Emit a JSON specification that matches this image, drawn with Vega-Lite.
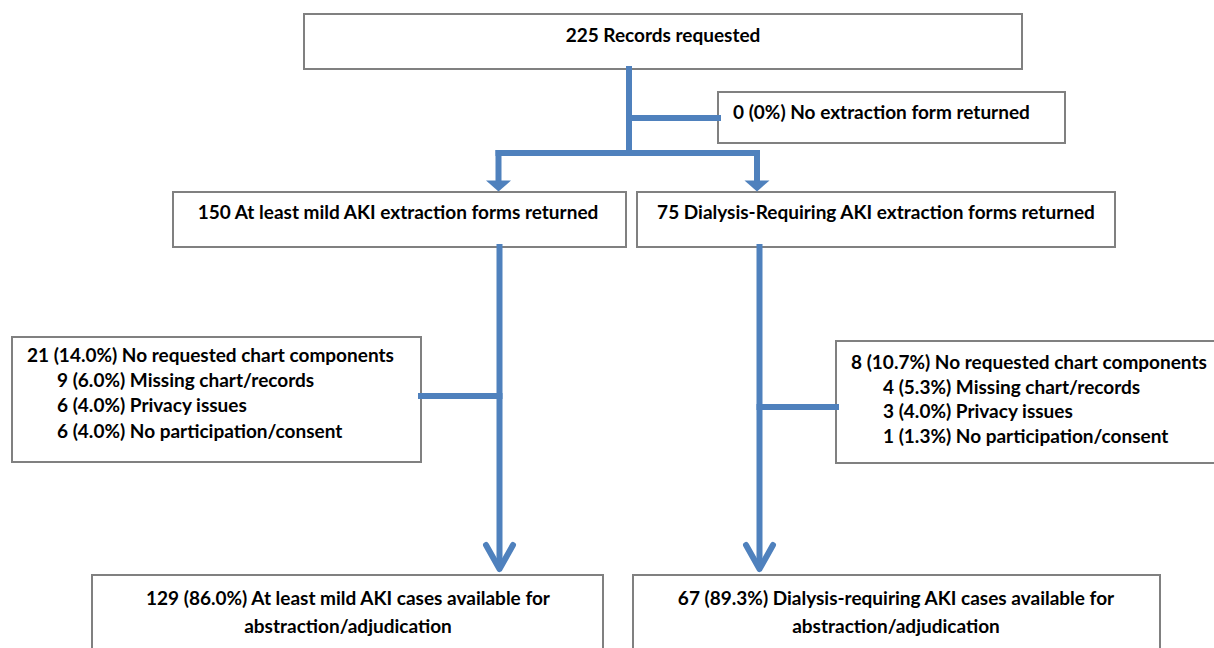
{
  "$schema": "https://vega.github.io/schema/vega-lite/v6.json",
  "autosize": {"type": "fit", "contains": "padding"},
  "width": 1214,
  "height": 648,
  "padding": 0,
  "background": "white",
  "config": {"view": {"stroke": null}},
  "datasets": {
    "boxes": [
      {"id": "top", "x1": 304, "y1": 14, "x2": 1022, "y2": 69},
      {"id": "zero", "x1": 718, "y1": 92, "x2": 1065, "y2": 143},
      {"id": "mild", "x1": 173, "y1": 192, "x2": 626, "y2": 247},
      {"id": "dial", "x1": 637, "y1": 192, "x2": 1115, "y2": 247},
      {"id": "exclL", "x1": 12, "y1": 337, "x2": 421, "y2": 462},
      {"id": "exclR", "x1": 836, "y1": 341, "x2": 1222, "y2": 463},
      {"id": "finalL", "x1": 92, "y1": 575, "x2": 603, "y2": 660},
      {"id": "finalR", "x1": 633, "y1": 575, "x2": 1160, "y2": 660}
    ],
    "lines": [
      {"x1": 629, "y1": 69, "x2": 629, "y2": 153},
      {"x1": 629, "y1": 118, "x2": 718, "y2": 118},
      {"x1": 498.5, "y1": 153, "x2": 757, "y2": 153},
      {"x1": 498.5, "y1": 153, "x2": 498.5, "y2": 182},
      {"x1": 757, "y1": 153, "x2": 757, "y2": 182},
      {"x1": 499.5, "y1": 247, "x2": 499.5, "y2": 566},
      {"x1": 759.5, "y1": 247, "x2": 759.5, "y2": 566},
      {"x1": 421, "y1": 396, "x2": 499.5, "y2": 396},
      {"x1": 759.5, "y1": 407, "x2": 836, "y2": 407}
    ],
    "heads": [
      {"x": 498.5, "y": 186},
      {"x": 757, "y": 186}
    ],
    "chevrons": [
      {"arrow": "L", "k": 1, "x": 486, "y": 545},
      {"arrow": "L", "k": 2, "x": 499.5, "y": 569},
      {"arrow": "L", "k": 3, "x": 513, "y": 545},
      {"arrow": "R", "k": 1, "x": 746, "y": 545},
      {"arrow": "R", "k": 2, "x": 759.5, "y": 569},
      {"arrow": "R", "k": 3, "x": 773, "y": 545}
    ],
    "centerLabels": [
      {"x": 663, "y": 36, "t": "225 Records requested"},
      {"x": 398, "y": 213, "t": "150 At least mild AKI extraction forms returned"},
      {"x": 876, "y": 213, "t": "75 Dialysis-Requiring AKI extraction forms returned"},
      {"x": 348, "y": 599, "t": "129 (86.0%) At least mild AKI cases available for"},
      {"x": 348, "y": 627, "t": "abstraction/adjudication"},
      {"x": 896, "y": 599, "t": "67 (89.3%) Dialysis-requiring AKI cases available for"},
      {"x": 896, "y": 627, "t": "abstraction/adjudication"}
    ],
    "leftLabels": [
      {"x": 733, "y": 113, "t": "0 (0%) No extraction form returned"},
      {"x": 27, "y": 356, "t": "21 (14.0%) No requested chart components"},
      {"x": 57, "y": 381, "t": "9 (6.0%) Missing chart/records"},
      {"x": 57, "y": 406, "t": "6 (4.0%) Privacy issues"},
      {"x": 57, "y": 432, "t": "6 (4.0%) No participation/consent"},
      {"x": 851, "y": 363, "t": "8 (10.7%) No requested chart components"},
      {"x": 883, "y": 388, "t": "4 (5.3%) Missing chart/records"},
      {"x": 883, "y": 412, "t": "3 (4.0%) Privacy issues"},
      {"x": 883, "y": 437, "t": "1 (1.3%) No participation/consent"}
    ]
  },
  "layer": [
    {
      "data": {"name": "boxes"},
      "mark": {"type": "rect", "fill": "white", "stroke": "#808080", "strokeWidth": 2, "clip": true},
      "encoding": {
        "x": {"field": "x1", "type": "quantitative", "scale": {"domain": [0, 1214], "nice": false, "zero": false}, "axis": null},
        "x2": {"field": "x2"},
        "y": {"field": "y1", "type": "quantitative", "scale": {"domain": [0, 648], "nice": false, "zero": false, "reverse": true}, "axis": null},
        "y2": {"field": "y2"}
      }
    },
    {
      "data": {"name": "lines"},
      "mark": {"type": "rule", "color": "#4f81bd", "strokeWidth": 6, "strokeCap": "square"},
      "encoding": {
        "x": {"field": "x1", "type": "quantitative", "scale": {"domain": [0, 1214], "nice": false, "zero": false}, "axis": null},
        "x2": {"field": "x2"},
        "y": {"field": "y1", "type": "quantitative", "scale": {"domain": [0, 648], "nice": false, "zero": false, "reverse": true}, "axis": null},
        "y2": {"field": "y2"}
      }
    },
    {
      "data": {"name": "heads"},
      "mark": {"type": "point", "shape": "M-1,-0.44L1,-0.44L0,0.44Z", "size": 625, "filled": true, "color": "#4f81bd", "opacity": 1},
      "encoding": {
        "x": {"field": "x", "type": "quantitative", "scale": {"domain": [0, 1214], "nice": false, "zero": false}, "axis": null},
        "y": {"field": "y", "type": "quantitative", "scale": {"domain": [0, 648], "nice": false, "zero": false, "reverse": true}, "axis": null}
      }
    },
    {
      "data": {"name": "chevrons"},
      "mark": {"type": "line", "color": "#4f81bd", "strokeWidth": 6, "strokeJoin": "round", "strokeCap": "round"},
      "encoding": {
        "x": {"field": "x", "type": "quantitative", "scale": {"domain": [0, 1214], "nice": false, "zero": false}, "axis": null},
        "y": {"field": "y", "type": "quantitative", "scale": {"domain": [0, 648], "nice": false, "zero": false, "reverse": true}, "axis": null},
        "detail": {"field": "arrow"},
        "order": {"field": "k"}
      }
    },
    {
      "data": {"name": "centerLabels"},
      "mark": {"type": "text", "align": "center", "baseline": "middle", "font": "Lato", "fontWeight": "bold", "fontSize": 19, "color": "black"},
      "encoding": {
        "x": {"field": "x", "type": "quantitative", "scale": {"domain": [0, 1214], "nice": false, "zero": false}, "axis": null},
        "y": {"field": "y", "type": "quantitative", "scale": {"domain": [0, 648], "nice": false, "zero": false, "reverse": true}, "axis": null},
        "text": {"field": "t"}
      }
    },
    {
      "data": {"name": "leftLabels"},
      "mark": {"type": "text", "align": "left", "baseline": "middle", "font": "Lato", "fontWeight": "bold", "fontSize": 19, "color": "black"},
      "encoding": {
        "x": {"field": "x", "type": "quantitative", "scale": {"domain": [0, 1214], "nice": false, "zero": false}, "axis": null},
        "y": {"field": "y", "type": "quantitative", "scale": {"domain": [0, 648], "nice": false, "zero": false, "reverse": true}, "axis": null},
        "text": {"field": "t"}
      }
    }
  ]
}
